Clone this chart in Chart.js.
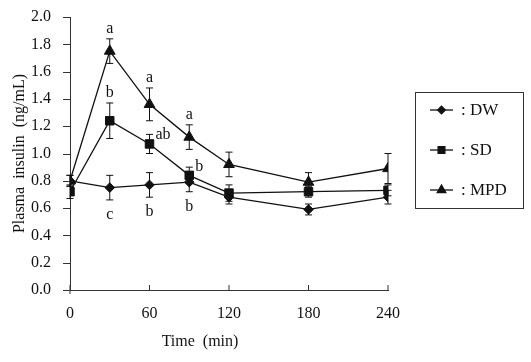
<!DOCTYPE html>
<html>
<head>
<meta charset="utf-8">
<script src="https://cdn.jsdelivr.net/npm/chart.js@4"></script>
<style>
  html, body { margin: 0; padding: 0; background: #fff; }
  #wrap { width: 531px; height: 362px; }
</style>
</head>
<body>
<div id="wrap"><canvas id="grafico" width="531" height="362"></canvas></div>
<script>
// ===== DADOS =====
const tempos = [0, 30, 60, 90, 120, 180, 240];
const xTicks = [0, 60, 120, 180, 240];

const dwMedia = [0.80, 0.75, 0.77, 0.79, 0.68, 0.59, 0.68];
const dwErro  = [0.04, 0.09, 0.09, 0.07, 0.05, 0.04, 0.05];
const sdMedia = [0.72, 1.24, 1.07, 0.84, 0.71, 0.72, 0.73];
const sdErro  = [0.05, 0.13, 0.07, 0.06, 0.06, 0.04, 0.04];
const mpdMedia = [0.80, 1.75, 1.36, 1.12, 0.92, 0.79, 0.89];
const mpdErro  = [0.04, 0.09, 0.12, 0.09, 0.09, 0.07, 0.11];

const dwLetras  = ["", "c", "b", "b", "", "", ""];
const sdLetras  = ["", "b", "ab", "b", "", "", ""];
const mpdLetras = ["", "a", "a", "a", "", "", ""];

const nomes = ["DW", "SD", "MPD"];
const tituloX = "Time  (min)";
const tituloY = "Plasma  insulin  (ng/mL)";

const FONTE = "'Liberation Serif', 'Times New Roman', serif";
const COR = "#111";

function serie(label, medias, erros, letras, estilo, raio) {
  return {
    label,
    data: tempos.map((t, i) => ({ x: t, y: medias[i] })),
    erros,
    letras,
    borderColor: COR,
    backgroundColor: COR,
    borderWidth: 1.3,
    pointStyle: estilo,
    pointRadius: raio,
    pointHoverRadius: raio,
    pointBorderWidth: 1,
    tension: 0
  };
}

// ===== PLUGIN: barras de erro, letras, ticks, título x, legenda =====
const extras = {
  id: "extras",
  afterDatasetsDraw(chart) {
    const ctx = chart.ctx;
    const xs = chart.scales.x, ys = chart.scales.y;
    ctx.save();
    ctx.strokeStyle = COR;
    ctx.lineWidth = 1;
    chart.data.datasets.forEach(ds => {
      ds.data.forEach((p, i) => {
        const px = xs.getPixelForValue(p.x);
        const top = ys.getPixelForValue(p.y + ds.erros[i]);
        const bot = ys.getPixelForValue(p.y - ds.erros[i]);
        ctx.beginPath();
        ctx.moveTo(px, top); ctx.lineTo(px, bot);
        ctx.moveTo(px - 3.5, top); ctx.lineTo(px + 3.5, top);
        ctx.moveTo(px - 3.5, bot); ctx.lineTo(px + 3.5, bot);
        ctx.stroke();
      });
    });

    // letras de significância
    ctx.fillStyle = COR;
    ctx.font = "16px " + FONTE;
    ctx.textBaseline = "middle";
    chart.data.datasets.forEach(ds => {
      ds.data.forEach((p, i) => {
        const txt = ds.letras[i];
        if (!txt) return;
        const px = xs.getPixelForValue(p.x);
        const top = ys.getPixelForValue(p.y + ds.erros[i]);
        const bot = ys.getPixelForValue(p.y - ds.erros[i]);
        if (ds.label === "DW") {
          ctx.textAlign = "center";
          ctx.fillText(txt, px, bot + 15);
        } else if (ds.label === "SD" && i > 1) {
          ctx.textAlign = "left";
          ctx.fillText(txt, px + 6, top);
        } else {
          ctx.textAlign = "center";
          ctx.fillText(txt, px, top - 10);
        }
      });
    });

    // ticks: x para dentro, y para fora
    const y0 = ys.bottom;
    ctx.strokeStyle = "#333";
    ctx.beginPath();
    xTicks.forEach(t => {
      const px = xs.getPixelForValue(t);
      ctx.moveTo(px, y0); ctx.lineTo(px, y0 - 5);
    });
    ctx.moveTo(xs.left, y0); ctx.lineTo(xs.left, y0 + 4);
    ys.ticks.forEach(t => {
      const py = Math.round(ys.getPixelForValue(t.value)) + 0.5;
      ctx.moveTo(ys.right - 7, py); ctx.lineTo(ys.right, py);
    });
    ctx.stroke();

    // título do eixo x (deslocado para a esquerda como no original)
    ctx.textAlign = "center";
    ctx.fillStyle = COR;
    ctx.font = "16px " + FONTE;
    ctx.fillText(tituloX, 200, 342);

    // legenda com caixa
    const bx = 415.5, by = 92.5, bw = 108, bh = 116;
    ctx.lineWidth = 1;
    ctx.strokeStyle = "#333";
    ctx.strokeRect(bx, by, bw, bh);
    ctx.font = "17px " + FONTE;
    ctx.textAlign = "left";
    chart.data.datasets.forEach((ds, k) => {
      const ly = 110 + k * 40;
      ctx.strokeStyle = COR;
      ctx.lineWidth = 1.3;
      ctx.beginPath();
      ctx.moveTo(430, ly); ctx.lineTo(453, ly);
      ctx.stroke();
      Chart.helpers.drawPoint(ctx, { pointStyle: ds.pointStyle, radius: ds.pointRadius * 0.8, borderWidth: 1 }, 441.5, ly);
      ctx.fillStyle = COR;
      ctx.fillText(": " + nomes[k], 461, ly + 1);
    });
    ctx.restore();
  }
};

new Chart(document.getElementById("grafico"), {
  type: "line",
  data: {
    datasets: [
      serie("DW", dwMedia, dwErro, dwLetras, "rectRot", 4.8),
      serie("SD", sdMedia, sdErro, sdLetras, "rect", 6),
      serie("MPD", mpdMedia, mpdErro, mpdLetras, "triangle", 6.2)
    ]
  },
  options: {
    responsive: false,
    animation: false,
    events: [],
    layout: { padding: { top: 17, right: 143, bottom: 0, left: 0 } },
    plugins: { legend: { display: false }, tooltip: { enabled: false } },
    scales: {
      x: {
        type: "linear",
        min: 0, max: 240,
        afterBuildTicks: s => { s.ticks = xTicks.map(v => ({ value: v })); },
        afterFit: s => { s.height = 72; },
        border: { display: true, color: "#333", width: 1 },
        grid: { display: true, drawOnChartArea: false, drawTicks: false },
        ticks: { color: COR, font: { family: FONTE, size: 16 }, padding: 14, maxRotation: 0 },
        title: { display: false }
      },
      y: {
        min: 0, max: 2.0,
        afterFit: s => { s.width = 70; },
        border: { display: true, color: "#333", width: 1 },
        grid: { display: true, drawOnChartArea: false, drawTicks: true, tickLength: 12, tickColor: "rgba(0,0,0,0)" },
        ticks: { stepSize: 0.2, color: COR, font: { family: FONTE, size: 16 }, padding: 7, callback: v => v.toFixed(1) },
        title: { display: true, text: tituloY, color: COR, font: { family: FONTE, size: 16 }, padding: { top: 10, bottom: 0 } }
      }
    }
  },
  plugins: [extras]
});
</script>
</body>
</html>
